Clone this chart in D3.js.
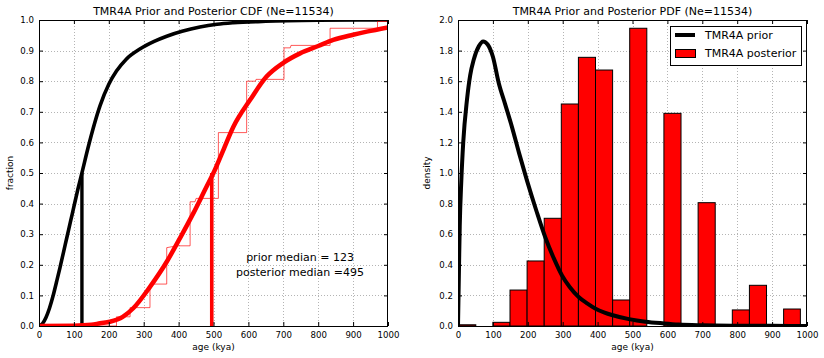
<!DOCTYPE html>
<html>
<head>
<meta charset="utf-8">
<script src="https://cdn.jsdelivr.net/npm/d3@7"></script>
<style>
  html, body { margin: 0; padding: 0; background: #fff; }
  svg { display: block; font-family: "DejaVu Sans", sans-serif; }
</style>
</head>
<body>
<svg id="chart" width="824" height="358"></svg>
<script>
// ---------------- DATA ----------------
const geneName = "TMR4A";
const ne = 11534;
const priorMedian = 123;
const posteriorMedian = 495;

// Prior CDF (black smooth curve)
const priorCdfAge  = [0, 10, 20, 30, 40, 50, 60, 70, 80, 90, 100, 110, 123, 140, 160, 175, 200, 222, 250, 289, 330, 366, 410, 461, 510, 557, 650, 800, 1000];
const priorCdfFrac = [0, 0.008, 0.028, 0.058, 0.097, 0.143, 0.19, 0.24, 0.29, 0.34, 0.39, 0.44, 0.50, 0.58, 0.665, 0.72, 0.79, 0.833, 0.872, 0.905, 0.93, 0.947, 0.963, 0.977, 0.986, 0.991, 0.996, 0.999, 1.0];

// Posterior CDF (red smooth curve)
const postCdfAge  = [0, 100, 150, 175, 203, 240, 270, 318, 366, 404, 442, 480, 499.5, 530, 557, 605, 652, 700, 748, 800, 843, 900, 939, 1000];
const postCdfFrac = [0, 0.001, 0.004, 0.009, 0.014, 0.03, 0.058, 0.128, 0.21, 0.287, 0.368, 0.455, 0.499, 0.58, 0.651, 0.739, 0.815, 0.86, 0.891, 0.915, 0.935, 0.952, 0.962, 0.976];

// Posterior empirical CDF (thin red step line)
const stepAge  = [0, 222, 222, 261, 261, 318, 318, 366, 366, 395, 433, 433, 447, 450, 514, 514, 595, 595, 620, 622, 702, 702, 720, 722, 834, 834, 970, 970, 1000];
const stepFrac = [0, 0, 0.03, 0.03, 0.06, 0.06, 0.137, 0.137, 0.256, 0.262, 0.262, 0.406, 0.406, 0.417, 0.417, 0.632, 0.632, 0.80, 0.80, 0.806, 0.806, 0.909, 0.909, 0.917, 0.917, 0.973, 0.973, 0.995, 0.995];

// Prior PDF (black curve, right panel)
const priorPdfAge  = [0, 3, 5, 9.5, 15, 25.8, 35, 45, 60, 72, 85, 100, 116.5, 135, 154.7, 175, 197.7, 225, 250, 275, 298, 320, 345.7, 370, 393, 420, 441, 490, 537, 590, 632, 700, 800, 900, 1000];
const priorPdfDens = [0, 0.4, 0.65, 0.95, 1.2, 1.48, 1.64, 1.74, 1.83, 1.86, 1.84, 1.76, 1.59, 1.45, 1.30, 1.13, 0.95, 0.75, 0.58, 0.44, 0.33, 0.255, 0.19, 0.148, 0.115, 0.088, 0.072, 0.045, 0.028, 0.017, 0.01, 0.005, 0.002, 0.001, 0];

// Posterior histogram (red bars, right panel)
const binEdges   = [2, 51, 100, 149, 198, 247, 296, 345, 394, 443, 492, 541, 590, 639, 688, 737, 786, 835, 884, 933, 981];
const binDensity = [0.008, 0, 0.024, 0.235, 0.425, 0.704, 1.451, 1.756, 1.673, 0.17, 1.946, 0, 1.39, 0, 0.806, 0, 0.105, 0.266, 0, 0.111];

const ageTicks  = [0, 100, 200, 300, 400, 500, 600, 700, 800, 900, 1000];
const fracTicks = [0, 0.1, 0.2, 0.3, 0.4, 0.5, 0.6, 0.7, 0.8, 0.9, 1.0];
const densTicks = [0, 0.2, 0.4, 0.6, 0.8, 1.0, 1.2, 1.4, 1.6, 1.8, 2.0];

// ---------------- DRAWING ----------------
const svg = d3.select("#chart");
const TICK_FONT = 8.6, LABEL_FONT = 9, TITLE_FONT = 11;

function panel(id, x0, x1, y0, y1, xDomain, yDomain, yTicks, yFmt, title, yLabel, yLabelX) {
  const g = svg.append("g");
  const x = d3.scaleLinear().domain(xDomain).range([x0, x1]);
  const y = d3.scaleLinear().domain(yDomain).range([y1, y0]);

  svg.append("defs").append("clipPath").attr("id", id)
    .append("rect").attr("x", x0).attr("y", y0).attr("width", x1 - x0).attr("height", y1 - y0);

  const grid = g.append("g").attr("stroke", "#b4b4b4").attr("stroke-width", 1).attr("stroke-dasharray", "1,2");
  ageTicks.slice(1, -1).forEach(t => grid.append("line").attr("x1", Math.round(x(t)) + 0.5).attr("x2", Math.round(x(t)) + 0.5).attr("y1", y0).attr("y2", y1));
  yTicks.slice(1, -1).forEach(t => grid.append("line").attr("y1", Math.round(y(t)) + 0.5).attr("y2", Math.round(y(t)) + 0.5).attr("x1", x0).attr("x2", x1));

  const plot = g.append("g").attr("clip-path", `url(#${id})`);
  const front = svg.append("g");

  return { g, plot, front, x, y, x0, x1, y0, y1, finish() {
    front.append("rect").attr("x", x0 + 0.5).attr("y", y0 + 0.5).attr("width", x1 - x0 - 1).attr("height", y1 - y0)
      .attr("fill", "none").attr("stroke", "#000").attr("stroke-width", 1);
    const ax = front.append("g").attr("transform", `translate(0,${y1})`)
      .call(d3.axisBottom(x).tickValues(ageTicks).tickFormat(d3.format("d")).tickSizeInner(-4).tickSizeOuter(0).tickPadding(6));
    const ay = front.append("g").attr("transform", `translate(${x0},0)`)
      .call(d3.axisLeft(y).tickValues(yTicks).tickFormat(yFmt).tickSizeInner(-4).tickSizeOuter(0).tickPadding(5));
    const axT = front.append("g").attr("transform", `translate(0,${y0})`)
      .call(d3.axisTop(x).tickValues(ageTicks).tickFormat("").tickSizeInner(-4).tickSizeOuter(0));
    const ayR = front.append("g").attr("transform", `translate(${x1},0)`)
      .call(d3.axisRight(y).tickValues(yTicks).tickFormat("").tickSizeInner(-4).tickSizeOuter(0));
    [ax, ay, axT, ayR].forEach(a => {
      a.select(".domain").remove();
      a.selectAll("text").attr("font-family", "DejaVu Sans").attr("font-size", TICK_FONT).attr("fill", "#000");
      a.selectAll("line").attr("stroke", "#000");
    });
    front.append("text").attr("x", (x0 + x1) / 2).attr("y", 15).attr("text-anchor", "middle")
      .attr("font-size", TITLE_FONT).attr("fill", "#000").text(title);
    front.append("text").attr("x", (x0 + x1) / 2).attr("y", 350).attr("text-anchor", "middle")
      .attr("font-size", LABEL_FONT).attr("fill", "#000").text("age (kya)");
    front.append("text").attr("transform", `translate(${yLabelX},${(y0 + y1) / 2}) rotate(-90)`)
      .attr("text-anchor", "middle").attr("font-size", LABEL_FONT).attr("fill", "#000").text(yLabel);
  }};
}

// ---------- Left panel: CDF ----------
const L = panel("clipL", 39, 388, 20, 326, [0, 1000], [0, 1], fracTicks, d3.format(".1f"),
  `${geneName} Prior and Posterior CDF (Ne=${ne})`, "fraction", 13);

const lineL = (xs, ys, curve) => d3.line().x((d, i) => L.x(xs[i])).y((d, i) => L.y(ys[i])).curve(curve)(xs);

L.plot.append("path").attr("d", lineL(priorCdfAge, priorCdfFrac, d3.curveMonotoneX))
  .attr("fill", "none").attr("stroke", "#000").attr("stroke-width", 3.6);
L.plot.append("line").attr("x1", L.x(priorMedian)).attr("x2", L.x(priorMedian)).attr("y1", L.y(0)).attr("y2", L.y(0.5))
  .attr("stroke", "#000").attr("stroke-width", 3.4);
L.plot.append("path").attr("d", lineL(stepAge, stepFrac, d3.curveLinear))
  .attr("fill", "none").attr("stroke", "#ff0000").attr("stroke-opacity", 0.65).attr("stroke-width", 1);
L.plot.append("path").attr("d", lineL(postCdfAge, postCdfFrac, d3.curveMonotoneX))
  .attr("fill", "none").attr("stroke", "#ff0000").attr("stroke-width", 4.5);
L.plot.append("line").attr("x1", L.x(posteriorMedian)).attr("x2", L.x(posteriorMedian)).attr("y1", L.y(0)).attr("y2", L.y(0.5))
  .attr("stroke", "#ff0000").attr("stroke-width", 3.6);

const ann = L.front.append("text").attr("text-anchor", "middle").attr("font-size", 11).attr("fill", "#000");
ann.append("tspan").attr("x", 300).attr("y", 261).text(`prior median = ${priorMedian}`);
ann.append("tspan").attr("x", 300).attr("y", 276).text(`posterior median =${posteriorMedian}`);
L.finish();

// ---------- Right panel: PDF ----------
const R = panel("clipR", 458, 807, 20, 326, [0, 1000], [0, 2], densTicks, d3.format(".1f"),
  `${geneName} Prior and Posterior PDF (Ne=${ne})`, "density", 430);

R.plot.selectAll("rect.bar").data(binDensity).enter().append("rect")
  .attr("x", (d, i) => R.x(binEdges[i]))
  .attr("width", (d, i) => R.x(binEdges[i + 1]) - R.x(binEdges[i]))
  .attr("y", d => R.y(d))
  .attr("height", d => R.y(0) - R.y(d))
  .attr("fill", "#ff0000").attr("stroke", "#000").attr("stroke-width", 1);

R.plot.append("path")
  .attr("d", d3.line().x((d, i) => R.x(priorPdfAge[i])).y((d, i) => R.y(priorPdfDens[i])).curve(d3.curveMonotoneX)(priorPdfAge))
  .attr("fill", "none").attr("stroke", "#000").attr("stroke-width", 4);
R.finish();

// legend
const lg = R.front.append("g");
lg.append("rect").attr("x", 670.5).attr("y", 26.5).attr("width", 131).attr("height", 39)
  .attr("fill", "#fff").attr("stroke", "#000").attr("stroke-width", 1);
lg.append("line").attr("x1", 675).attr("x2", 695).attr("y1", 35).attr("y2", 35).attr("stroke", "#000").attr("stroke-width", 4);
lg.append("rect").attr("x", 675.5).attr("y", 49.5).attr("width", 20).attr("height", 8)
  .attr("fill", "#ff0000").attr("stroke", "#000").attr("stroke-width", 1);
lg.append("text").attr("x", 705).attr("y", 39.3).attr("font-size", 11).attr("fill", "#000").text(`${geneName} prior`);
lg.append("text").attr("x", 705).attr("y", 57.3).attr("font-size", 11).attr("fill", "#000").text(`${geneName} posterior`);
</script>
</body>
</html>
